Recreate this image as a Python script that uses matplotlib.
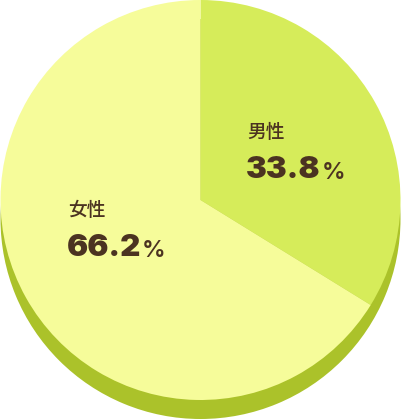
import matplotlib.pyplot as plt

labels = ['男性', '女性']
shares = [33.8, 66.2]
colors = ['#D6EC5A', '#F6FC9A']
shadow_color = '#ABC22A'
text_color = '#4B3321'

plt.rcParams['font.family'] = ['Noto Sans CJK JP', 'DejaVu Sans']

fig = plt.figure(figsize=(4.01, 4.20), dpi=100)
ax = fig.add_axes([0, 0, 1, 1])

# bottom "thickness" of the pie
ax.pie([1], colors=[shadow_color], center=(200.5, 201), radius=200, frame=True)
# the pie itself, starting at 12 o'clock going clockwise
ax.pie(shares, colors=colors, center=(200.5, 220), radius=200,
       startangle=90, counterclock=False, frame=True)

ax.set_xlim(0, 401)
ax.set_ylim(0, 420)
ax.set_aspect('equal')
ax.axis('off')

# label positions (pixel coords, y measured from the top)
label_pos = [(247, 132), (68, 210)]
for name, val, (x, y) in zip(labels, shares, label_pos):
    ax.text(x, 420 - y, name, fontsize=13.5, fontweight='medium',
            color=text_color, ha='left', va='center')
    num = ax.text(x - 1, 420 - y - 46, f'{val:.1f}', fontsize=22.5,
                  fontweight='black', color=text_color,
                  family=['Inter', 'DejaVu Sans'], ha='left', va='baseline')
    ax.annotate('%', xy=(1, 0), xycoords=num, xytext=(0.5, 0),
                textcoords='offset points', fontsize=17, fontweight='semibold',
                color=text_color, family=['Inter', 'DejaVu Sans'],
                ha='left', va='bottom')

fig.savefig('out.png', dpi=100)
